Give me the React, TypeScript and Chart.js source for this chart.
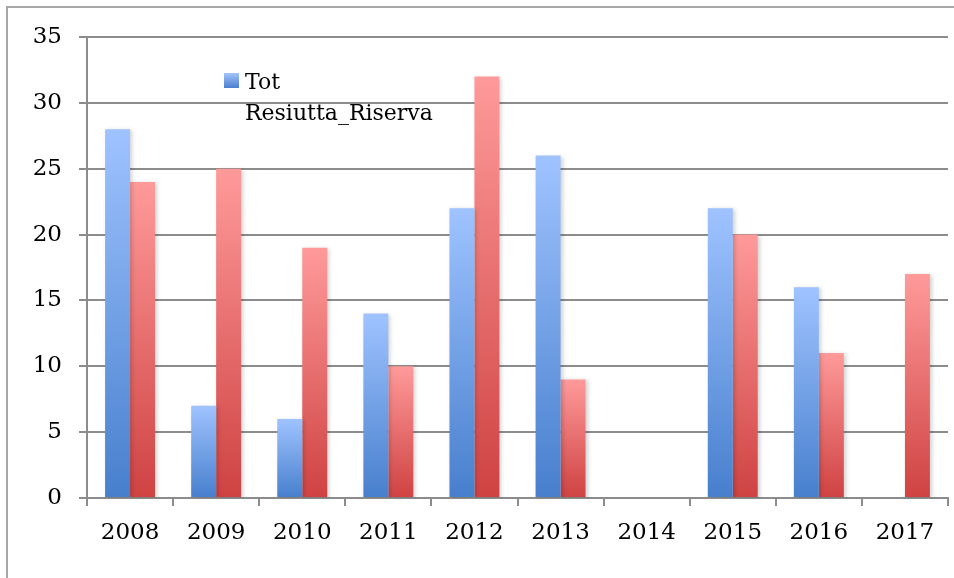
import React, { useEffect, useRef } from "react";
import { Chart, registerables } from "chart.js";

Chart.register(...registerables);

const categories = ["2008", "2009", "2010", "2011", "2012", "2013", "2014", "2015", "2016", "2017"];
const seriesBlueLabel = "Tot Resiutta_Riserva";
const seriesBlue: (number | null)[] = [28, 7, 6, 14, 22, 26, null, 22, 16, null];
const seriesRedLabel = "Serie 2";
const seriesRed: (number | null)[] = [24, 25, 19, 10, 32, 9, null, 20, 11, 17];
const legendLines = ["Tot", "Resiutta_Riserva"];
const yMin = 0;
const yMax = 35;
const yStep = 5;

const FONT = "'DejaVu Serif', serif";

function gradientFill(top: string, bottom: string, fallback: string) {
  return (ctx: any) => {
    const chart = ctx.chart;
    const v = ctx.raw;
    if (!chart.chartArea || v == null || !chart.scales.y) return fallback;
    const y = chart.scales.y;
    const yTop = y.getPixelForValue(v);
    const yBase = y.getPixelForValue(0);
    if (!isFinite(yTop) || !isFinite(yBase) || yTop === yBase) return fallback;
    const g = chart.ctx.createLinearGradient(0, yTop, 0, yBase);
    g.addColorStop(0, top);
    g.addColorStop(1, bottom);
    return g;
  };
}

const framePlugin = {
  id: "frame",
  beforeDraw(chart: any) {
    const c = chart.ctx;
    c.save();
    c.strokeStyle = "#a6a6a6";
    c.lineWidth = 2;
    c.beginPath();
    c.moveTo(7, chart.height);
    c.lineTo(7, 7);
    c.lineTo(chart.width, 7);
    c.stroke();
    c.restore();
  },
};

const shadowPlugin = {
  id: "barShadow",
  beforeDatasetsDraw(chart: any) {
    const c = chart.ctx;
    c.save();
    c.shadowColor = "rgba(0,0,0,0.18)";
    c.shadowBlur = 4;
    c.shadowOffsetX = 2;
    c.shadowOffsetY = 1;
  },
  afterDatasetsDraw(chart: any) {
    chart.ctx.restore();
  },
};

const legendPlugin = {
  id: "customLegend",
  afterDraw(chart: any) {
    const c = chart.ctx;
    c.save();
    const g = c.createLinearGradient(0, 73, 0, 88);
    g.addColorStop(0, "#a2c4fb");
    g.addColorStop(1, "#4a7fcf");
    c.fillStyle = g;
    c.fillRect(224, 73, 15, 15);
    c.fillStyle = "#000";
    c.font = `22px ${FONT}`;
    c.textBaseline = "alphabetic";
    c.textAlign = "left";
    legendLines.forEach((line, i) => {
      c.fillText(line, 245, 89 + i * 31);
    });
    c.restore();
  },
};

export default function App() {
  const ref = useRef<HTMLCanvasElement>(null);
  useEffect(() => {
    if (!ref.current) return;
    const chart = new Chart(ref.current, {
      type: "bar",
      data: {
        labels: categories,
        datasets: [
          {
            label: seriesBlueLabel,
            data: seriesBlue,
            backgroundColor: gradientFill("#9fc3ff", "#477fcd", "#6f9ee6"),
            borderWidth: 0,
            categoryPercentage: 0.58,
            barPercentage: 1,
          },
          {
            label: seriesRedLabel,
            data: seriesRed,
            backgroundColor: gradientFill("#ff9a9a", "#cf4242", "#e66e6e"),
            borderWidth: 0,
            categoryPercentage: 0.58,
            barPercentage: 1,
          },
        ],
      },
      options: {
        animation: false,
        responsive: false,
        devicePixelRatio: 1,
        layout: { padding: { left: 0, top: 37, right: 6, bottom: 0 } },
        plugins: {
          legend: { display: false },
          tooltip: { enabled: false },
        },
        scales: {
          x: {
            grid: {
              display: true,
              drawOnChartArea: false,
              drawTicks: true,
              tickLength: 8,
              color: "#8c8c8c",
              lineWidth: 2,
              offset: true,
            },
            border: { display: true, color: "#8c8c8c", width: 2 },
            ticks: {
              color: "#000",
              font: { family: FONT, size: 23 },
              padding: 13,
              maxRotation: 0,
              autoSkip: false,
            },
            afterFit(scale: any) {
              scale.height = 80;
            },
          },
          y: {
            min: yMin,
            max: yMax,
            grid: {
              color: "#8c8c8c",
              lineWidth: 2,
              tickLength: 8,
              drawTicks: true,
            },
            border: { display: true, color: "#8c8c8c", width: 2 },
            ticks: {
              stepSize: yStep,
              color: "#000",
              font: { family: FONT, size: 23 },
              padding: 17,
            },
            afterFit(scale: any) {
              scale.width = 87;
            },
          },
        },
      },
      plugins: [framePlugin, shadowPlugin, legendPlugin],
    });
    return () => chart.destroy();
  }, []);
  return (
    <div style={{ position: "fixed", left: 0, top: 0, width: 954, height: 578, background: "#fff" }}>
      <canvas ref={ref} width={954} height={578} style={{ width: 954, height: 578, display: "block" }} />
    </div>
  );
}
